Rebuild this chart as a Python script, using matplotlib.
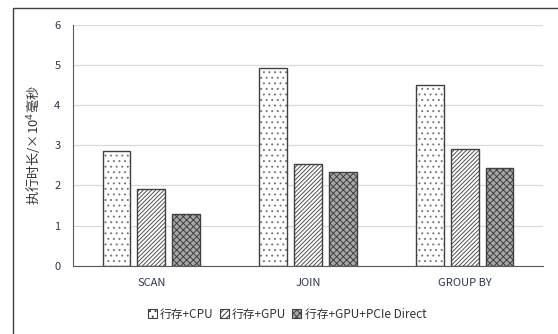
import matplotlib
matplotlib.use("Agg")
import matplotlib.pyplot as plt
import numpy as np
from matplotlib.patches import Rectangle

plt.rcParams['font.family'] = ['Noto Sans CJK SC', 'DejaVu Sans']
plt.rcParams['hatch.linewidth'] = 0.7

categories = ["SCAN", "JOIN", "GROUP BY"]
series_names = ["行存+CPU", "行存+GPU", "行存+GPU+PCIe Direct"]
cpu_vals = [2.87, 4.93, 4.50]
gpu_vals = [1.91, 2.54, 2.91]
pcie_vals = [1.28, 2.33, 2.43]
yticks = [0, 1, 2, 3, 4, 5, 6]

fig = plt.figure(figsize=(5.58, 3.34), dpi=100)
fig.patches.append(Rectangle((13/558, -0.1), 1.2, 1 - 8/334 + 0.1, transform=fig.transFigure,
                             fill=False, edgecolor='#404040', linewidth=1.0))
ax = fig.add_axes([73/558, 1 - 265.7/334, 470/558, 240.7/334])

x = np.arange(len(categories))
w = 0.178
step = 0.222
styles = [
    dict(facecolor='white', hatch='...', hatchcol='#7a7a7a'),
    dict(facecolor='white', hatch='////////', hatchcol='#505050'),
    dict(facecolor='#a8a8a8', hatch='xxxxx', hatchcol='#404040'),
]
for i, (vals, st) in enumerate(zip([cpu_vals, gpu_vals, pcie_vals], styles)):
    pos = x + (i - 1) * step
    # hatch layer
    ax.bar(pos, vals, width=w, facecolor=st['facecolor'], hatch=st['hatch'],
           edgecolor=st['hatchcol'], linewidth=0, zorder=3)
    # outline layer
    ax.bar(pos, vals, width=w, facecolor='none', edgecolor='#404040', linewidth=1.0, zorder=4)

# legend handles
from matplotlib.patches import Patch
handles = []
for st, name in zip(styles, series_names):
    handles.append(Patch(facecolor=st['facecolor'], hatch=st['hatch'].replace('////////', '//////'),
                         edgecolor='#404040', linewidth=0.8, label=name))

ax.set_xlim(-0.5, 2.5)
ax.set_ylim(0, 6)
ax.set_yticks(yticks)
ax.set_xticks(x)
ax.set_xticklabels(categories)
ax.grid(axis='y', color='#d9d9d9', linewidth=0.9, zorder=0)
for s in ['top', 'right']:
    ax.spines[s].set_visible(False)
ax.spines['left'].set_color('#595959')
ax.spines['bottom'].set_color('#595959')
ax.spines['bottom'].set_zorder(5)
ax.tick_params(axis='both', length=0, labelsize=8, colors='#2e3550', pad=9)
ax.tick_params(axis='x', pad=9)
ax.set_ylabel("执行时长/×10$^4$毫秒", fontsize=9.5, color='#333333', labelpad=9)

leg = fig.legend(handles=handles, loc='center', bbox_to_anchor=(287/558, 1 - 314/334), ncol=3,
                 frameon=False, fontsize=8.5, handlelength=0.75, handleheight=0.75,
                 handletextpad=0.3, columnspacing=0.5, borderaxespad=0)
for t in leg.get_texts():
    t.set_color('#333333')

fig.savefig("out.png", dpi=100)
